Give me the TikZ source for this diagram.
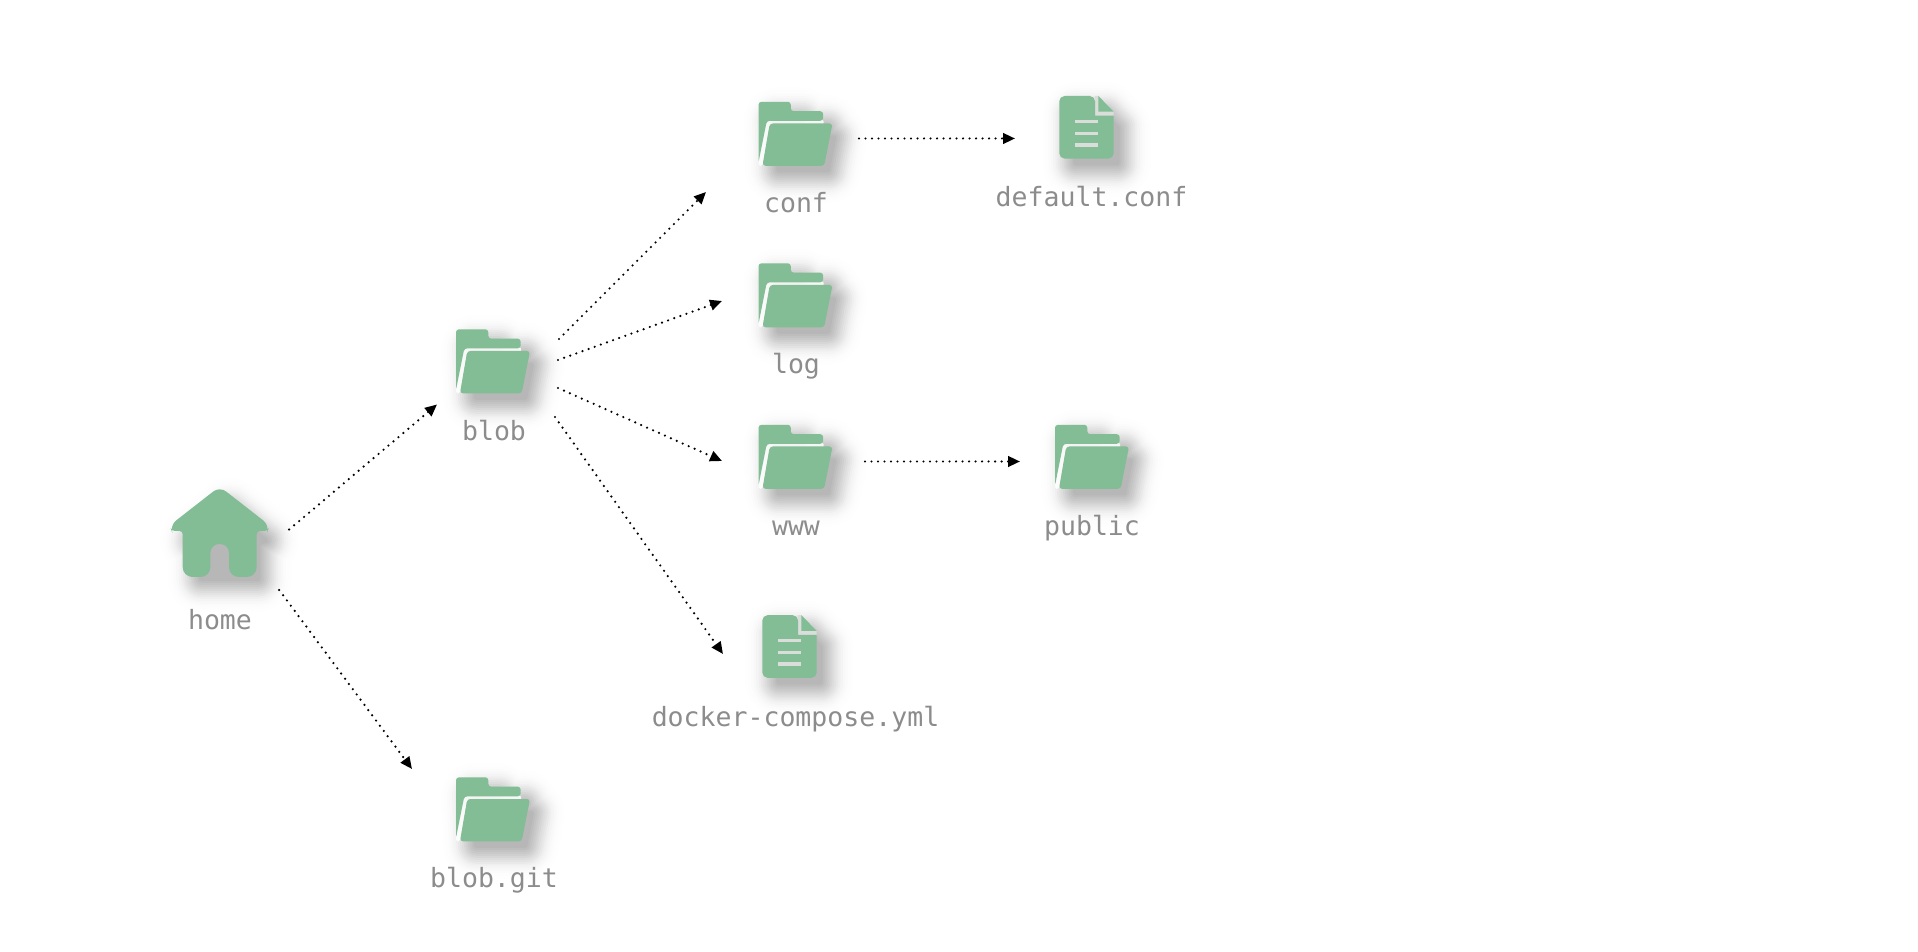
\documentclass[tikz,border=0pt]{standalone}
\usepackage{fontspec}
\setmonofont{DejaVu Sans Mono}
\usetikzlibrary{calc}
\usetikzlibrary{arrows.meta}
\definecolor{icongreen}{HTML}{82BD95}
\definecolor{icongap}{HTML}{DADDDA}
\definecolor{labelgray}{HTML}{8C8C8C}
\newcommand{\softshadow}[1]{
	\begin{scope}[shift={(10,12)},scale=.76]
		\foreach \w/\o in {68/.003,62/.005,56/.008,51/.011,46/.014,41/.018,37/.022,33/.026,29/.028,25/.03,21/.03,17/.03,13/.03,9/.03,5/.03}{
			\begin{scope}[transparency group,opacity=\o]
				\filldraw[black,line width=\w*.567pt,line join=round] #1;
			\end{scope}
		}
	\end{scope}
}
\tikzset{
	iconbox/.style={minimum width=42pt,minimum height=36pt,inner sep=0pt},
	filename/.style={anchor=base,text=labelgray,font=\ttfamily\fontsize{15.1}{18}\selectfont,inner sep=0pt},
	flow/.style={line width=1.4pt,line cap=round,dash pattern=on 0pt off 3.7pt,-{Stealth[inset=0pt,length=6.8pt,width=6pt]}},
	pics/folder/.style={code={
		\softshadow{(-37,-32) -- (-5,-32) -- (-5,-22) -- (28,-22) -- (28,-10) -- (37,-10) -- (29,32) -- (-35,32) -- cycle}
		\fill[white,opacity=.85,rounded corners=1pt] (-37,-14) -- (28,-14) -- (28,-8) -- (-26,-8) -- (-33,32.3) -- (-37,32.3) -- cycle;
		\fill[icongreen,rounded corners=1.7pt] (-37,-31.7) -- (-4.7,-31.7) -- (-4.7,-22.3) -- (27.7,-22.3) -- (27.7,-12.7) -- (-28.7,-12.7) -- (-37,29) -- cycle;
		\fill[icongreen,rounded corners=1.7pt] (-25.7,-10) -- (37,-10) -- (28.7,32.3) -- (-33,32.3) -- cycle;
	}},
	pics/docfile/.style={code={
		\softshadow{(-27,-31) -- (12,-31) -- (27,-15) -- (27,31) -- (-27,31) -- cycle}
		\fill[icongap] (8,-31.3) -- (12,-31.3) -- (27.2,-15.7) -- (27.2,-11) -- (8,-11) -- cycle;
		\fill[icongreen,rounded corners=3pt] (-27.2,-31.3) -- (8.5,-31.3) [sharp corners] -- (8.5,-11.7) -- (27.2,-11.7) [rounded corners=3pt] -- (27.2,31.3) -- (-27.2,31.3) -- cycle;
		\fill[icongreen] (11.8,-31.3) -- (27.2,-15.7) -- (11.8,-15.7) -- cycle;
		\foreach \ly in {-5.7,6,17.7}{
			\fill[icongap] (-11.5,\ly-1.7) rectangle (11.8,\ly+1.7);
		}
	}},
	pics/house/.style={code={
		\softshadow{(0,-44) -- (47,-6) -- (37,-2) -- (37,44) -- (-37,44) -- (-37,-2) -- (-47,-6) -- cycle}
		\fill[icongreen,rounded corners=4.5pt] (0,-46.5) -- (50,-7.5) [rounded corners=1.8pt] -- (48,-2) -- (37,-2) [rounded corners=5.6pt] -- (37,44) -- (9.3,44) [rounded corners=5pt] -- (9.3,11) -- (-9.3,11) [rounded corners=5.6pt] -- (-9.3,44) -- (-37,44) [rounded corners=1.8pt] -- (-37,-2) -- (-48,-2) [rounded corners=4.5pt] -- (-50,-7.5) -- cycle;
	}}
}
\begin{document}
\begin{tikzpicture}[x=.02cm,y=-.02cm]
	\useasboundingbox (0,0) rectangle (1918,952);
	% icons
	\foreach \nm/\x/\y/\kind in {home/219.7/533/house,blob/493/361/folder,blobgit/493/809/folder,conf/795.5/133.5/folder,log/795.5/295/folder,www/795.5/456.5/folder,public/1092/456.5/folder,defaultconf/1086.5/127.3/docfile,compose/789.5/646.5/docfile}{
		\node[iconbox] (\nm) at (\x,\y) {};
		\pic at (\nm) {\kind};
	}
	% names
	\node[filename] (homelabel) at (220,630) {home};
	\node[filename] (bloblabel) at (494,440.5) {blob};
	\node[filename] (blobgitlabel) at (494,887) {blob.git};
	\node[filename] (conflabel) at (796,212.5) {conf};
	\node[filename] (loglabel) at (796,374) {log};
	\node[filename] (wwwlabel) at (796,535.5) {www};
	\node[filename] (publiclabel) at (1092,535.5) {public};
	\node[filename] (defaultconflabel) at (1091.5,207) {default.conf};
	\node[filename] (composelabel) at (795.5,726.5) {docker-compose.yml};
	% arrows
	\draw[flow] ($(home)+(69.5,-3.5)$) -- ($(blob)+(-56,43.5)$);
	\draw[flow] ($(home)+(59.5,57)$) -- ($(blobgit)+(-81,-40)$);
	\draw[flow] ($(blob)+(66,-22)$) -- ($(conf)+(-89.5,58.5)$);
	\draw[flow] ($(blob)+(65,-1)$) -- ($(log)+(-73.5,6)$);
	\draw[flow] ($(blob)+(65,27)$) -- ($(www)+(-73.5,4.5)$);
	\draw[flow] ($(blob)+(62,56)$) -- ($(compose)+(-66.5,7.5)$);
	\draw[flow] ($(conf)+(63.5,5)$) -- ($(defaultconf)+(-71.5,11.2)$);
	\draw[flow] ($(www)+(69.5,5)$) -- ($(public)+(-72,5)$);
\end{tikzpicture}
\end{document}
